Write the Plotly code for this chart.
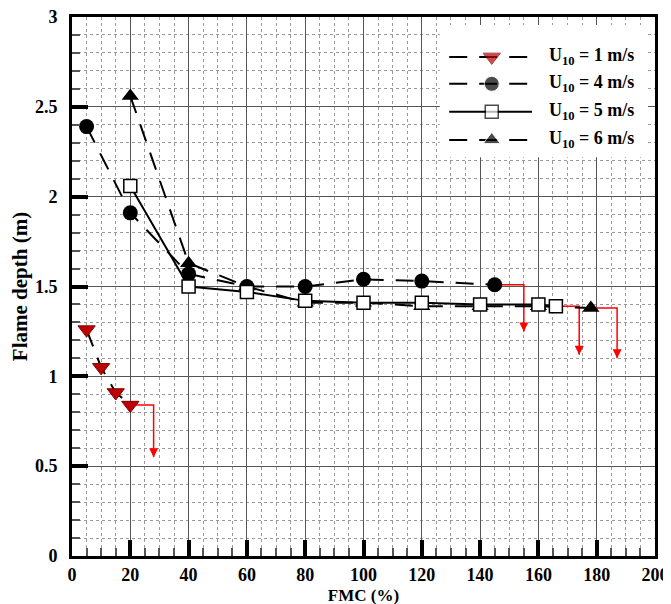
import plotly.graph_objects as go

# FMC (%) and flame depth (m) for each wind speed
fmc_u1 = [5, 10, 15, 20]
depth_u1 = [1.26, 1.05, 0.91, 0.84]

fmc_u4 = [5, 20, 40, 60, 80, 100, 120, 145]
depth_u4 = [2.39, 1.91, 1.57, 1.50, 1.50, 1.54, 1.53, 1.51]

fmc_u5 = [20, 40, 60, 80, 100, 120, 140, 160, 166]
depth_u5 = [2.06, 1.50, 1.47, 1.42, 1.41, 1.41, 1.40, 1.40, 1.39]

fmc_u6 = [20, 40, 60, 80, 100, 120, 140, 160, 178]
depth_u6 = [2.56, 1.63, 1.50, 1.41, 1.41, 1.39, 1.39, 1.39, 1.38]

# red extinction arrows: start point, corner x, arrow end y
arrow_x0 = [20, 145, 166, 178]
arrow_y0 = [0.84, 1.51, 1.39, 1.38]
arrow_x1 = [28, 155, 174, 187]
arrow_y1 = [0.55, 1.25, 1.12, 1.10]

legend_names = ["U<sub>10</sub> = 1 m/s", "U<sub>10</sub> = 4 m/s",
                "U<sub>10</sub> = 5 m/s", "U<sub>10</sub> = 6 m/s"]

serif = "Palatino Linotype, Book Antiqua, Liberation Serif, serif"
dash = "18px,12px"

fig = go.Figure()

# arrows first so markers sit on top
for x0, y0, x1, y1 in zip(arrow_x0, arrow_y0, arrow_x1, arrow_y1):
    fig.add_trace(go.Scatter(x=[x0, x1, x1], y=[y0, y0, y1], mode="lines",
                             line=dict(color="#ff0000", width=1.5),
                             showlegend=False, hoverinfo="skip"))
    fig.add_annotation(x=x1, y=y1, ax=x1, ay=y1 + 0.05, xref="x", yref="y",
                       axref="x", ayref="y", text="", showarrow=True,
                       arrowhead=2, arrowsize=1.2, arrowwidth=1.5, arrowcolor="#ff0000")

styles = [
    dict(line=dict(color="black", width=2, dash=dash),
         marker=dict(symbol="triangle-down", size=15, color="#c00000",
                     line=dict(color="#7a0000", width=1))),
    dict(line=dict(color="black", width=2, dash=dash),
         marker=dict(symbol="circle", size=15, color="black")),
    dict(line=dict(color="black", width=2),
         marker=dict(symbol="square", size=13, color="white",
                     line=dict(color="black", width=1.5))),
    dict(line=dict(color="black", width=2, dash=dash),
         marker=dict(symbol="triangle-up", size=15, color="black")),
]

series = [(fmc_u1, depth_u1, 0), (fmc_u4, depth_u4, 1), (fmc_u6, depth_u6, 3), (fmc_u5, depth_u5, 2)]
for xs, ys, k in series:
    fig.add_trace(go.Scatter(x=xs, y=ys, mode="lines+markers", name=legend_names[k],
                             showlegend=False, **styles[k]))

# hand-made legend on an overlay axis spanning the plot area (0..1)
box_x = [0.631, 0.988, 0.988, 0.631, 0.631]
box_y = [0.985, 0.985, 0.74, 0.74, 0.985]
fig.add_trace(go.Scatter(x=box_x, y=box_y, xaxis="x2", yaxis="y2", mode="lines",
                         fill="toself", fillcolor="white", line=dict(width=0),
                         showlegend=False, hoverinfo="skip"))
row_y = [0.926, 0.876, 0.824, 0.772]
for k, ry in enumerate(row_y):
    st = styles[k]
    fig.add_trace(go.Scatter(x=[0.647, 0.72, 0.789], y=[ry, ry, ry], xaxis="x2", yaxis="y2",
                             mode="lines+markers", line=st["line"],
                             marker=dict(st["marker"], size=[0, st["marker"]["size"], 0]),
                             showlegend=False, hoverinfo="skip"))
    fig.add_annotation(x=0.815, y=ry, xref="paper", yref="paper", xanchor="left",
                       yanchor="middle", showarrow=False, text="<b>" + legend_names[k] + "</b>",
                       font=dict(family=serif, size=18, color="black"))

# empty traces so the tick-only overlay axes get drawn
for xa, ya in [("x3", "y3"), ("x4", "y4")]:
    fig.add_trace(go.Scatter(x=[None], y=[None], xaxis=xa, yaxis=ya,
                             showlegend=False, hoverinfo="skip"))

axis_common = dict(
    showline=True, linewidth=3, linecolor="black", mirror=True,
    showgrid=True, gridcolor="#555555", gridwidth=1,
    ticks="", zeroline=False, automargin=False, ticklabeloverflow="allow",
    tickfont=dict(family=serif, size=18, color="black", weight="bold"),
)
tick_only = dict(ticks="inside", showticklabels=False, showgrid=False,
                 zeroline=False, showline=False, automargin=False)
minor_ticks = dict(ticklen=8, tickwidth=1.5, tickcolor="#555555", **tick_only)
major_ticks = dict(ticklen=16, tickwidth=3.5, tickcolor="black", **tick_only)

fig.update_layout(
    template="none",
    xaxis=dict(range=[0, 200], tick0=0, dtick=20,
               title=dict(text="<b>FMC (%)</b>", font=dict(family=serif, size=17, color="black"),
                          standoff=6),
               minor=dict(dtick=5, showgrid=True, griddash="dot", gridcolor="#9a9a9a",
                          gridwidth=1),
               **axis_common),
    yaxis=dict(range=[0, 3], tick0=0, dtick=0.5, ticklabelstandoff=8,
               title=dict(text="<b>Flame depth (m)</b>", font=dict(family=serif, size=21, color="black"),
                          standoff=8),
               minor=dict(dtick=0.1, showgrid=True, griddash="dot", gridcolor="#9a9a9a",
                          gridwidth=1),
               **axis_common),
    xaxis2=dict(range=[0, 1], overlaying="x", visible=False, fixedrange=True),
    yaxis2=dict(range=[0, 1], overlaying="y", visible=False, fixedrange=True),
    xaxis3=dict(range=[0, 200], overlaying="x", anchor="y", side="bottom",
                tick0=0, dtick=5, **minor_ticks),
    yaxis3=dict(range=[0, 3], overlaying="y", anchor="x", side="left",
                tick0=0, dtick=0.1, **minor_ticks),
    xaxis4=dict(range=[0, 200], overlaying="x", anchor="y", side="bottom",
                tick0=0, dtick=20, **major_ticks),
    yaxis4=dict(range=[0, 3], overlaying="y", anchor="x", side="left",
                tick0=0, dtick=0.5, **major_ticks),
    width=671, height=604,
    # page body adds an 8px offset, so margins are shifted to compensate
    margin=dict(l=64, r=24, t=9, b=56),
    plot_bgcolor="white", paper_bgcolor="white",
    font=dict(family=serif, color="black"),
    showlegend=False,
)

fig.write_html("out.html")
